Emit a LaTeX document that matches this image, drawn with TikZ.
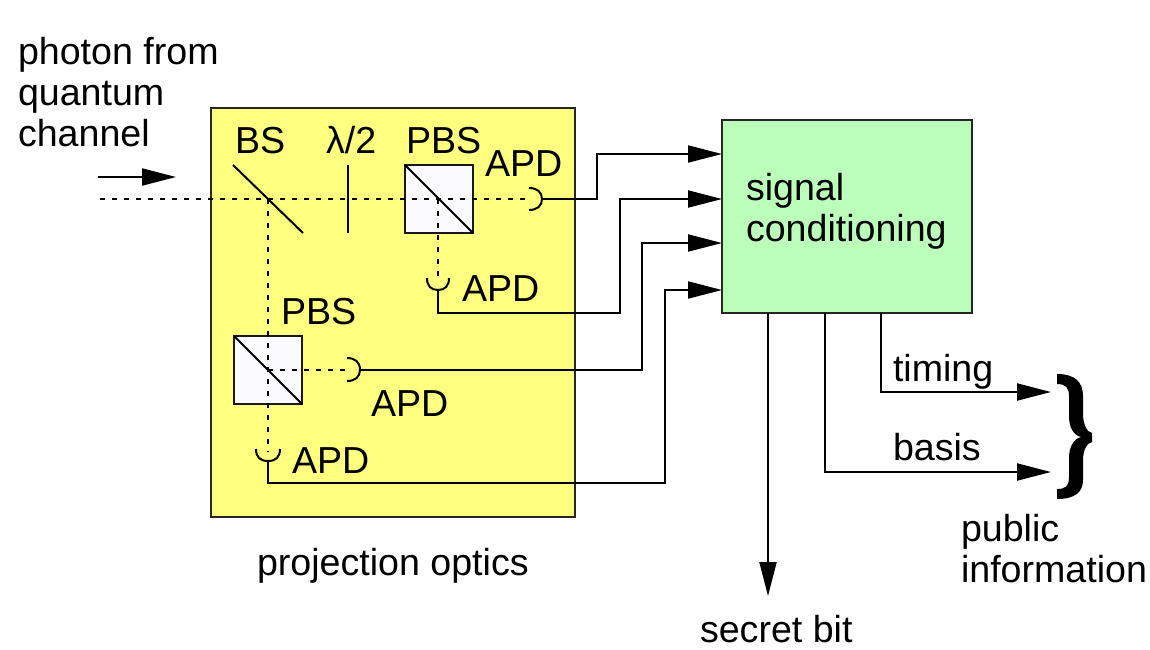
\documentclass[tikz,border=0pt]{standalone}
\usepackage{fontspec}
\setmainfont{Liberation Sans}
\usetikzlibrary{arrows.meta}
\definecolor{optyellow}{HTML}{FFFF80}
\definecolor{condgreen}{HTML}{BBFFBB}
\definecolor{cubefill}{HTML}{FAFAFF}
\tikzset{
  lbl/.style={anchor=base west,inner sep=0pt,outer sep=0pt,font=\fontsize{37.6}{41}\selectfont},
  multi/.style={lbl,align=left},
  panel/.style={draw=black!85,line width=1.8pt,inner sep=0pt,outer sep=0pt,anchor=north west},
  cube/.style={draw=black!90,fill=cubefill,line width=2pt,minimum width=68pt,minimum height=68pt,inner sep=0pt,outer sep=0pt,anchor=north west},
  optic/.style={draw=black,line width=2pt},
  beam/.style={draw=black,line width=2pt,dash pattern=on 5pt off 7pt},
  wire/.style={draw=black,line width=2pt},
  sig/.style={wire,-{Triangle[length=34pt,width=17pt]}},
}
\begin{document}
\begin{tikzpicture}[x=1pt,y=-1pt]
\useasboundingbox (0,0) rectangle (1150,649);
% panels
\node[panel,fill=optyellow,minimum width=364pt,minimum height=409pt] (optics) at (211,108) {};
\node[panel,fill=condgreen,minimum width=250pt,minimum height=193pt] (cond) at (722,120) {};
\node[cube] (pbsa) at (405,165) {};
\node[cube] (pbsb) at (234,336) {};
% free points
\coordinate (beamstart) at (100,199);
\coordinate (beamsplit) at (268,199);
\coordinate (beamcube) at (438,199);
\coordinate (beamcubeb) at (268,370);
\coordinate (apda) at (542,199);
\coordinate (apdb) at (438,290);
\coordinate (apdc) at (360,370);
\coordinate (apdd) at (268,461);
\coordinate (ina) at (722,154);
\coordinate (inb) at (722,199);
\coordinate (inc) at (722,243);
\coordinate (ind) at (722,290);
\coordinate (outa) at (768,313);
\coordinate (outb) at (825,313);
\coordinate (outc) at (881,313);
\coordinate (endbit) at (768,596);
\coordinate (endbasis) at (1051,472);
\coordinate (endtiming) at (1051,392);
\coordinate (arrowstart) at (98,177);
\coordinate (arrowend) at (176,177);
\coordinate (bsa) at (233,165);
\coordinate (bsb) at (303,233);
\coordinate (wpa) at (348,165);
\coordinate (wpb) at (348,233);
% optics
\draw[optic] (bsa) -- (bsb);
\draw[optic] (wpa) -- (wpb);
\draw[optic] (pbsa.north west) -- (pbsa.south east);
\draw[optic] (pbsb.north west) -- (pbsb.south east);
% beams
\draw[beam] (beamstart) -- (530,199);
\draw[beam] (beamsplit) -- (268,452);
\draw[beam] (beamcube) -- (438,282);
\draw[beam] (beamcubeb) -- (349,370);
% detectors
\draw[optic] (529,188) .. controls (537,188) and (542,192) .. (apda) .. controls (542,206) and (537,210) .. (529,210);
\draw[optic] (427,278) .. controls (427,286) and (431,290) .. (apdb) .. controls (445,290) and (449,286) .. (449,278);
\draw[optic] (347,358) .. controls (355,358) and (360,362) .. (apdc) .. controls (360,377) and (355,381) .. (347,381);
\draw[optic] (256,449) .. controls (256,457) and (260,461) .. (apdd) .. controls (276,461) and (280,457) .. (280,449);
% connectors
\draw[sig] (arrowstart) -- (arrowend);
\draw[sig] (apda) -- ++(55,0) |- (ina);
\draw[sig] (apdb) |- (620,313) |- (inb);
\draw[sig] (apdc) -- ++(282,0) |- (inc);
\draw[sig] (apdd) |- (665,483) |- (ind);
\draw[sig] (outa) -- (endbit);
\draw[sig] (outb) |- (endbasis);
\draw[sig] (outc) |- (endtiming);
% brace
\fill[black] (1057,374) .. controls (1075,374) and (1083,382) .. (1083,396)
  -- (1083,413) .. controls (1083,425) and (1087,432) .. (1092,433)
  -- (1092,442) .. controls (1087,443) and (1083,450) .. (1083,460)
  -- (1083,480) .. controls (1083,492) and (1075,499) .. (1057,499)
  -- (1057,489) .. controls (1066,489) and (1069,486) .. (1069,477)
  -- (1069,458) .. controls (1069,448) and (1073,439) .. (1081,437)
  .. controls (1073,435) and (1069,427) .. (1069,416)
  -- (1069,396) .. controls (1069,388) and (1066,384) .. (1057,384) -- cycle;
% labels
\node[multi] (ltop) at (18,146) {photon from\\quantum\\channel};
\node[lbl] (lbs) at (235,153) {BS};
\node[lbl] (lwp) at (326,153) {λ/2};
\node[lbl] (lpbsa) at (406,153) {PBS};
\node[lbl] (lapda) at (485,176) {APD};
\node[lbl] (lapdb) at (462,301) {APD};
\node[lbl] (lpbsb) at (281,324) {PBS};
\node[lbl] (lapdc) at (371,416) {APD};
\node[lbl] (lapdd) at (292,473) {APD};
\node[lbl] (lopt) at (257,575) {projection optics};
\node[multi] (lcond) at (746,241) {signal\\conditioning};
\node[lbl] (ltim) at (893,381) {timing};
\node[lbl] (lbas) at (893,460) {basis};
\node[multi] (lpub) at (961,582) {public\\information};
\node[lbl] (lsec) at (700,642) {secret bit};
\end{tikzpicture}
\end{document}
